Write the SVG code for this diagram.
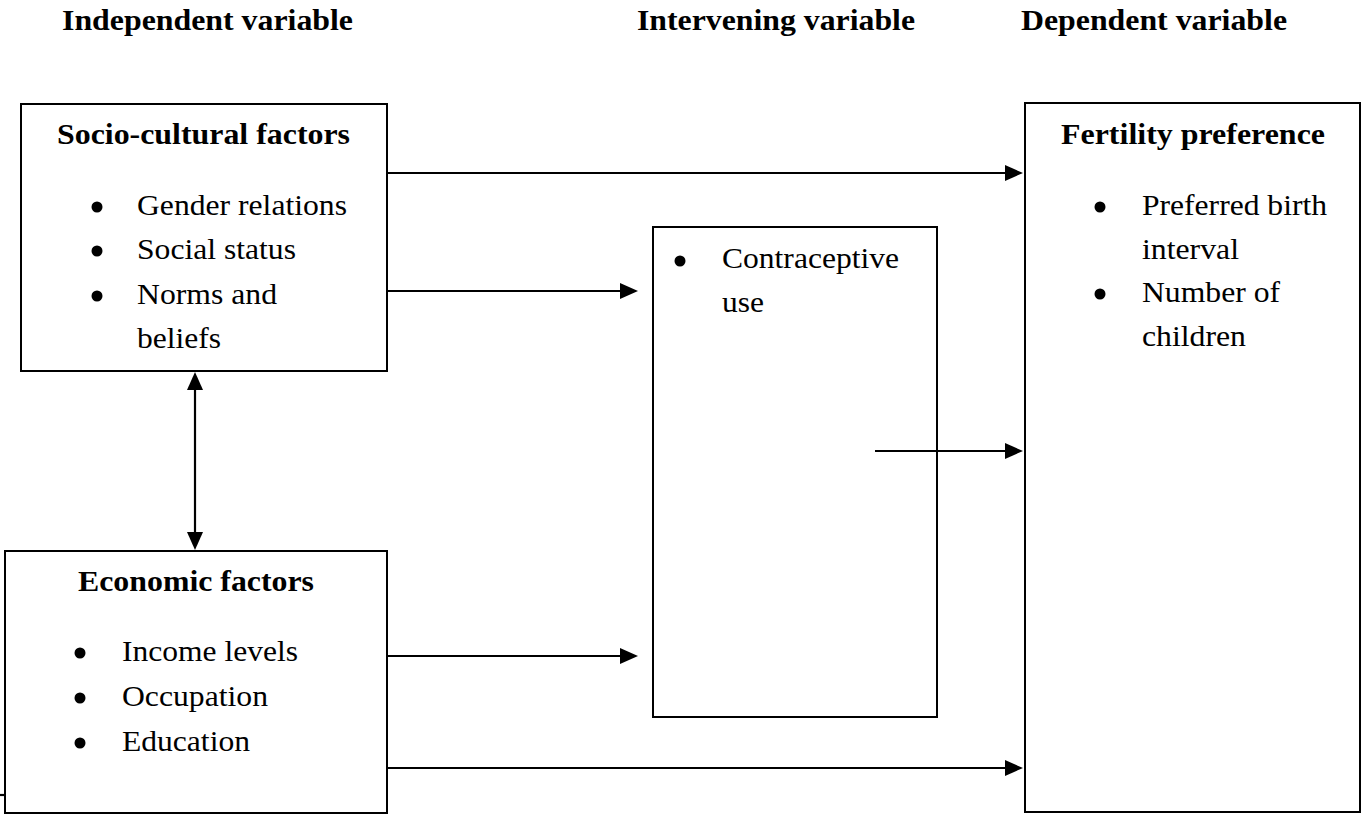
<svg xmlns="http://www.w3.org/2000/svg" width="1361" height="815" viewBox="0 0 1361 815">
  <defs>
    <style>
      .box { fill: #ffffff; stroke: #000000; stroke-width: 2; }
      .conn { stroke: #000000; stroke-width: 2.2; fill: none; }
      .hd { font-family: 'Liberation Serif', serif; font-weight: bold; font-size: 30px; fill: #000000; }
      .tx { font-family: 'Liberation Serif', serif; font-size: 30px; fill: #000000; }
      .dot { fill: #000000; }
    </style>
    <marker id="ah" markerUnits="userSpaceOnUse" markerWidth="18" markerHeight="16" refX="14" refY="8" orient="auto-start-reverse">
      <path d="M0,0 L18,8 L0,16 z" fill="#000000"/>
    </marker>
  </defs>
  <rect width="1361" height="815" fill="#ffffff"/>

  <g id="headers">
    <text class="hd" x="62" y="30" textLength="291" lengthAdjust="spacingAndGlyphs">Independent variable</text>
    <text class="hd" x="637" y="30" textLength="278" lengthAdjust="spacingAndGlyphs">Intervening variable</text>
    <text class="hd" x="1021" y="30" textLength="266" lengthAdjust="spacingAndGlyphs">Dependent variable</text>
  </g>

  <g id="socio">
    <rect class="box" x="21" y="104" width="366" height="267"/>
    <text class="hd" x="57" y="144" textLength="293" lengthAdjust="spacingAndGlyphs">Socio-cultural factors</text>
    <circle class="dot" cx="97" cy="207" r="5.5"/>
    <circle class="dot" cx="97" cy="251" r="5.5"/>
    <circle class="dot" cx="97" cy="296" r="5.5"/>
    <text class="tx" x="137" y="215" textLength="210" lengthAdjust="spacingAndGlyphs">Gender relations</text>
    <text class="tx" x="137" y="259" textLength="159" lengthAdjust="spacingAndGlyphs">Social status</text>
    <text class="tx" x="137" y="304" textLength="140" lengthAdjust="spacingAndGlyphs">Norms and</text>
    <text class="tx" x="137" y="348" textLength="84" lengthAdjust="spacingAndGlyphs">beliefs</text>
  </g>

  <g id="economic">
    <rect class="box" x="5" y="551" width="382" height="262"/>
    <text class="hd" x="78" y="591" textLength="236" lengthAdjust="spacingAndGlyphs">Economic factors</text>
    <circle class="dot" cx="80" cy="653" r="5.5"/>
    <circle class="dot" cx="80" cy="698" r="5.5"/>
    <circle class="dot" cx="80" cy="743" r="5.5"/>
    <text class="tx" x="122" y="661" textLength="176" lengthAdjust="spacingAndGlyphs">Income levels</text>
    <text class="tx" x="122" y="706" textLength="146" lengthAdjust="spacingAndGlyphs">Occupation</text>
    <text class="tx" x="122" y="751" textLength="128" lengthAdjust="spacingAndGlyphs">Education</text>
  </g>

  <g id="contraceptive">
    <rect class="box" x="653" y="227" width="284" height="490"/>
    <circle class="dot" cx="680" cy="261" r="5.5"/>
    <text class="tx" x="722" y="268" textLength="177" lengthAdjust="spacingAndGlyphs">Contraceptive</text>
    <text class="tx" x="722" y="312" textLength="42" lengthAdjust="spacingAndGlyphs">use</text>
  </g>

  <g id="fertility">
    <rect class="box" x="1025" y="103" width="335" height="709"/>
    <text class="hd" x="1061" y="144" textLength="264" lengthAdjust="spacingAndGlyphs">Fertility preference</text>
    <circle class="dot" cx="1100" cy="207" r="5.5"/>
    <circle class="dot" cx="1100" cy="294" r="5.5"/>
    <text class="tx" x="1142" y="215" textLength="185" lengthAdjust="spacingAndGlyphs">Preferred birth</text>
    <text class="tx" x="1142" y="259" textLength="97" lengthAdjust="spacingAndGlyphs">interval</text>
    <text class="tx" x="1142" y="302" textLength="138" lengthAdjust="spacingAndGlyphs">Number of</text>
    <text class="tx" x="1142" y="346" textLength="104" lengthAdjust="spacingAndGlyphs">children</text>
  </g>

  <g id="connectors">
    <line class="conn" x1="388" y1="173" x2="1019" y2="173" marker-end="url(#ah)"/>
    <line class="conn" x1="388" y1="291" x2="634" y2="291" marker-end="url(#ah)"/>
    <line class="conn" x1="875" y1="451" x2="1019" y2="451" marker-end="url(#ah)"/>
    <line class="conn" x1="388" y1="656" x2="634" y2="656" marker-end="url(#ah)"/>
    <line class="conn" x1="388" y1="768" x2="1019" y2="768" marker-end="url(#ah)"/>
    <line class="conn" x1="195" y1="376" x2="195" y2="546" marker-start="url(#ah)" marker-end="url(#ah)"/>
    <line class="conn" x1="0" y1="795" x2="5" y2="795"/>
  </g>
</svg>
